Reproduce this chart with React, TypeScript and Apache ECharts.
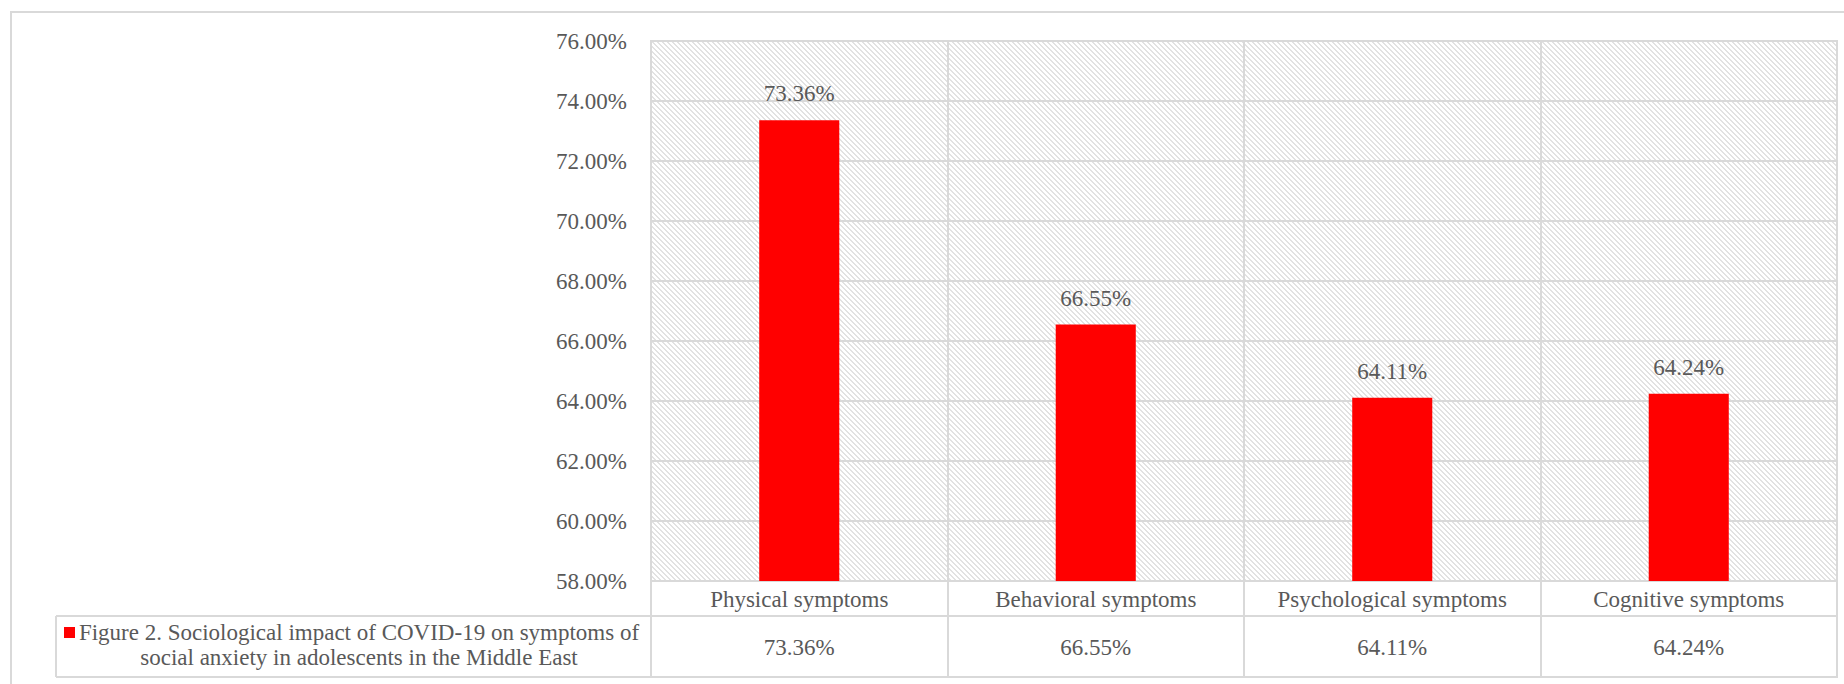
import React, { useEffect, useRef } from "react";
import * as echarts from "echarts";

const categories = ["Physical symptoms", "Behavioral symptoms", "Psychological symptoms", "Cognitive symptoms"];
const values = [73.36, 66.55, 64.11, 64.24];
const seriesName = "Figure 2. Sociological impact of COVID-19 on symptoms of\nsocial anxiety in adolescents in the Middle East";
const yMin = 58;
const yMax = 76;
const yStep = 2;

const FONT = "Liberation Serif";
const TEXT = "#595959";
const LINE = "#d9d9d9";

function makeHatch() {
  const p = 5;
  const c = document.createElement("canvas");
  c.width = p;
  c.height = p;
  const ctx = c.getContext("2d")!;
  ctx.fillStyle = "#ffffff";
  ctx.fillRect(0, 0, p, p);
  ctx.fillStyle = "#e2e2e2";
  for (let x = 0; x < p; x++) {
    for (let y = 0; y < p; y++) {
      const d = (((x - y) % p) + p) % p;
      if (d < 2) ctx.fillRect(x, y, 1, 1);
    }
  }
  return { image: c, repeat: "repeat", imageWidth: p, imageHeight: p } as any;
}

export default function App() {
  const ref = useRef<HTMLDivElement>(null);
  useEffect(() => {
    if (!ref.current) return;
    const chart = echarts.init(ref.current, undefined, { renderer: "svg" });
    const gridLeft = 651;
    const gridRight = 7;
    const gridTop = 41;
    const gridBottom = 103;
    const W = 1844;
    const plotRight = W - gridRight;
    const axisY = 684 - gridBottom;
    const row1 = axisY + 35;
    const row2 = axisY + 96;
    const fmt = (v: number) => v.toFixed(2) + "%";
    chart.setOption({
      animation: false,
      textStyle: { fontFamily: FONT },
      grid: {
        left: gridLeft,
        right: gridRight,
        top: gridTop,
        bottom: gridBottom,
        show: true,
        borderColor: LINE,
        borderWidth: 2,
        backgroundColor: makeHatch(),
      },
      xAxis: [
        {
          type: "category",
          data: categories,
          boundaryGap: true,
          axisLine: { show: true, lineStyle: { color: LINE, width: 2 } },
          axisTick: { show: true, interval: 0, length: 96, lineStyle: { color: LINE, width: 2 } },
          splitLine: { show: true, interval: 0, lineStyle: { color: LINE, width: 2 } },
          axisLabel: { interval: 0, color: TEXT, fontSize: 23, fontFamily: FONT, margin: 5, lineHeight: 26 },
        },
        {
          type: "category",
          data: categories,
          position: "bottom",
          offset: 35,
          boundaryGap: true,
          axisLine: { show: false },
          axisTick: { show: false },
          splitLine: { show: false },
          axisLabel: {
            interval: 0,
            color: TEXT,
            fontSize: 23,
            fontFamily: FONT,
            margin: 18,
            lineHeight: 26,
            formatter: (_v: string, i: number) => fmt(values[i]),
          },
        },
      ],
      yAxis: {
        type: "value",
        min: yMin,
        max: yMax,
        interval: yStep,
        axisLine: { show: false },
        axisTick: { show: false },
        splitLine: { show: true, lineStyle: { color: LINE, width: 2 } },
        axisLabel: { color: TEXT, fontSize: 23, fontFamily: FONT, margin: 24, formatter: (v: number) => fmt(v) },
      },
      series: [
        {
          type: "bar",
          name: seriesName,
          data: values,
          barWidth: "27%",
          itemStyle: { color: "#ff0000" },
          label: {
            show: true,
            position: "top",
            distance: 15,
            color: TEXT,
            fontSize: 23,
            fontFamily: FONT,
            formatter: (p: any) => fmt(p.value),
          },
        },
      ],
      graphic: [
        {
          type: "rect",
          shape: { x: 11, y: 12, width: 2000, height: 1000 },
          style: { fill: "none", stroke: LINE, lineWidth: 2 },
          silent: true,
        },
        {
          type: "line",
          shape: { x1: 56, y1: row1, x2: plotRight, y2: row1 },
          style: { stroke: LINE, lineWidth: 2 },
        },
        {
          type: "line",
          shape: { x1: 56, y1: row2, x2: plotRight + 1, y2: row2 },
          style: { stroke: LINE, lineWidth: 2 },
        },
        {
          type: "line",
          shape: { x1: 56, y1: row1, x2: 56, y2: row2 },
          style: { stroke: LINE, lineWidth: 2 },
        },
        {
          type: "rect",
          shape: { x: 64, y: 627, width: 11, height: 11 },
          style: { fill: "#ff0000" },
        },
        {
          type: "text",
          x: 359,
          y: 620,
          style: {
            text: seriesName,
            fill: TEXT,
            font: `23px "${FONT}"`,
            fontSize: 23,
            fontFamily: FONT,
            textAlign: "center",
            textVerticalAlign: "top",
            lineHeight: 25,
          },
        },
      ],
    });
    return () => chart.dispose();
  }, []);
  return (
    <div
      ref={ref}
      style={{ position: "absolute", left: 0, top: 0, width: 1844, height: 684 }}
    />
  );
}
